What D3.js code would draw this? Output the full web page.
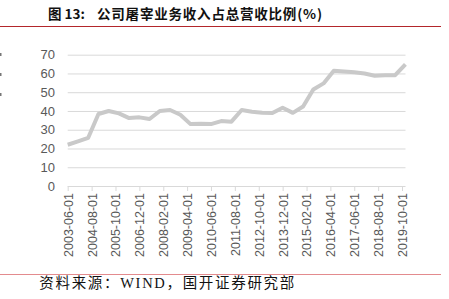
<!DOCTYPE html>
<html>
<head>
<meta charset="utf-8">
<script src="https://cdn.jsdelivr.net/npm/d3@7"></script>
<style>
  body { margin: 0; background: #fff; }
  svg { display: block; }
</style>
</head>
<body>
<svg id="chart"></svg>
<script>
// semi-annual data, 2003-06 .. 2019-12
const dates = [
  '2003-06-01','2003-12-01','2004-06-01','2004-12-01','2005-06-01','2005-12-01',
  '2006-06-01','2006-12-01','2007-06-01','2007-12-01','2008-06-01','2008-12-01',
  '2009-06-01','2009-12-01','2010-06-01','2010-12-01','2011-06-01','2011-12-01',
  '2012-06-01','2012-12-01','2013-06-01','2013-12-01','2014-06-01','2014-12-01',
  '2015-06-01','2015-12-01','2016-06-01','2016-12-01','2017-06-01','2017-12-01',
  '2018-06-01','2018-12-01','2019-06-01','2019-12-01'
]
const ratio = [
  22, 23.8, 25.7, 38.4, 40, 38.7,
  36.2, 36.6, 35.7, 40, 40.5, 38,
  33, 33.2, 33, 34.6, 34.3, 40.5,
  39.6, 39.1, 38.9, 41.7, 39, 42.4,
  51.5, 54.7, 61.5, 61.1, 60.6, 60,
  58.8, 59, 59.1, 64.9
]
const tickLabels = [
  '2003-06-01','2004-08-01','2005-10-01','2006-12-01','2008-02-01',
  '2009-04-01','2010-06-01','2011-08-01','2012-10-01','2013-12-01',
  '2015-02-01','2016-04-01','2017-06-01','2018-08-01','2019-10-01'
]
const yTicks = [0, 10, 20, 30, 40, 50, 60, 70]

const titleHead = '图 13:'
const titleBody = '公司屠宰业务收入占总营收比例(%)'
const source = '资料来源：WIND，国开证券研究部'

const width = 449
const height = 299
const parse = d3.timeParse('%Y-%m-%d')
const data = dates.map((d, i) => ({x: parse(d), y: ratio[i]}))

const svg = d3.select('#chart')
    .attr('width', width)
    .attr('height', height)
    .attr('viewBox', `0 0 ${width} ${height}`)

// scales
const xScale = d3.scaleTime()
    .domain([parse(tickLabels[0]), parse(tickLabels[tickLabels.length - 1])])
    .range([67.7, 402])
const yScale = d3.scaleLinear()
    .domain([0, 70])
    .range([186, 54.7])

// header + footer rules
svg.append('line')
    .attr('x1', 0).attr('x2', 441)
    .attr('y1', 26.5).attr('y2', 26.5)
    .style('stroke', '#b3262b')
    .style('stroke-width', 1)
svg.append('line')
    .attr('x1', 0).attr('x2', 441)
    .attr('y1', 274.5).attr('y2', 274.5)
    .style('stroke', '#e38b8e')
    .style('stroke-width', 1.2)

const titleText = svg.append('text')
    .attr('y', 19)
    .style('font-family', '"Noto Sans CJK SC", sans-serif')
    .style('font-weight', 'bold')
    .style('font-size', '13.5px')
    .style('fill', '#111')
titleText.append('tspan').attr('x', 48).text(titleHead)
svg.append('text')
    .attr('x', 97)
    .attr('y', 19)
    .attr('textLength', 225)
    .attr('lengthAdjust', 'spacing')
    .style('font-family', '"Noto Sans CJK SC", sans-serif')
    .style('font-weight', 'bold')
    .style('font-size', '13.5px')
    .style('fill', '#111')
    .text(titleBody)

svg.append('text')
    .attr('x', 39.3)
    .attr('y', 288)
    .attr('textLength', 255)
    .attr('lengthAdjust', 'spacing')
    .style('font-family', '"Liberation Serif", "Noto Sans CJK SC", serif')
    .style('font-size', '14.5px')
    .style('fill', '#111')
    .text(source)

// stray marks at the left edge (clipped text from the page)
svg.append('g')
    .selectAll('rect')
    .data([55, 75, 95])
    .enter()
    .append('rect')
      .attr('x', 0)
      .attr('y', d => d - 2)
      .attr('width', 1.5)
      .attr('height', 3)
      .style('fill', '#777')

// grid lines
const yGrid = d3.axisRight(yScale)
    .tickValues(yTicks.filter(d => d > 0))
    .tickSize(405.5 - 67.7)
    .tickFormat('')
svg.append('g')
    .attr('transform', 'translate(67.7, 0)')
    .call(yGrid)
    .call(g => g.select('.domain').remove())
    .selectAll('line')
    .style('stroke', '#d9d9d9')
    .style('stroke-width', 1)

// y axis labels
const yAxis = d3.axisLeft(yScale)
    .tickValues(yTicks)
    .tickSize(0)
    .tickPadding(0)
svg.append('g')
    .attr('transform', 'translate(55, 0)')
    .call(yAxis)
    .call(g => g.select('.domain').remove())
    .selectAll('text')
    .style('font-family', '"Liberation Sans", Arial, sans-serif')
    .style('font-size', '13px')
    .style('fill', '#595959')

// x axis
const xAxis = d3.axisBottom(xScale)
    .tickValues(tickLabels.map(parse))
    .tickSize(5)
    .tickSizeOuter(0)
    .tickFormat(d3.timeFormat('%Y-%m-%d'))
const gx = svg.append('g')
    .attr('transform', `translate(0, ${yScale(0)})`)
    .call(xAxis)
gx.select('.domain')
    .attr('d', `M67.7,0.5H405.5`)
    .style('stroke', '#d9d9d9')
gx.selectAll('line')
    .style('stroke', '#d9d9d9')
gx.selectAll('text')
    .attr('transform', 'rotate(-90)')
    .attr('text-anchor', 'end')
    .attr('x', -7)
    .attr('y', 0)
    .attr('dy', '0.35em')
    .style('font-family', '"Liberation Sans", Arial, sans-serif')
    .style('font-size', '12.5px')
    .style('fill', '#595959')

// the line
const line = d3.line()
    .x(d => xScale(d.x))
    .y(d => yScale(d.y))
svg.append('path')
    .datum(data)
    .attr('d', line)
    .style('fill', 'none')
    .style('stroke', '#c9c9c9')
    .style('stroke-width', 4)
    .style('stroke-linejoin', 'round')
</script>
</body>
</html>
